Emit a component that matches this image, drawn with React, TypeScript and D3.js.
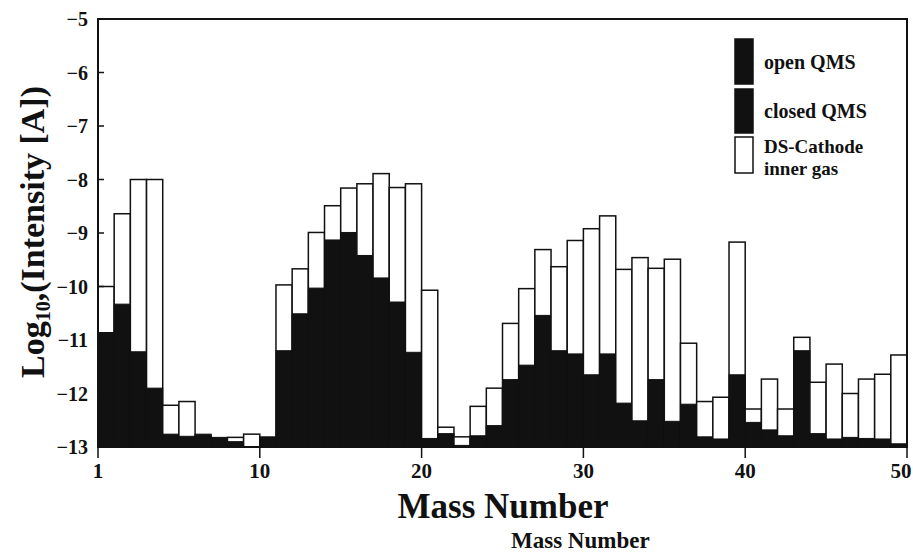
import React from "react";
import * as d3 from "d3";

// Mass numbers 1..50
const massNumbers: number[] = d3.range(1, 51);

// DS-Cathode inner gas (white bars), log10 intensity
const dsCathode: number[] = [
  -10.0, -8.64, -8.0, -8.0, -12.22, -12.15, -12.8, -12.84, -12.82, -12.76,
  -12.85, -9.97, -9.67, -8.99, -8.49, -8.16, -8.08, -7.89, -8.15, -8.08,
  -10.07, -12.63, -12.81, -12.24, -11.9, -10.69, -10.04, -9.31, -9.63, -9.14,
  -8.92, -8.68, -9.68, -9.46, -9.66, -9.49, -11.06, -12.15, -12.07, -9.17,
  -12.29, -11.73, -12.29, -10.95, -11.79, -11.45, -12.0, -11.73, -11.64, -11.28,
];

// QMS (open / closed, black bars), log10 intensity
const qms: number[] = [
  -10.86, -10.33, -11.22, -11.9, -12.76, -12.8, -12.76, -12.82, -12.9, -13.0,
  -12.81, -11.2, -10.51, -10.03, -9.13, -8.99, -9.42, -9.84, -10.29, -11.23,
  -12.84, -12.75, -12.97, -12.79, -12.6, -11.74, -11.47, -10.54, -11.2, -11.26,
  -11.65, -11.26, -12.18, -12.51, -11.74, -12.52, -12.2, -12.81, -12.85, -11.65,
  -12.54, -12.68, -12.79, -11.2, -12.75, -12.85, -12.82, -12.84, -12.85, -12.94,
];

const yTicks: number[] = [-5, -6, -7, -8, -9, -10, -11, -12, -13];
const xTickValues: number[] = [0, 10, 20, 30, 40, 50];
const xTickLabels: string[] = ["1", "10", "20", "30", "40", "50"];

const legendLabels: string[][] = [["open QMS"], ["closed QMS"], ["DS-Cathode", "inner gas"]];
const legendFills: string[] = ["#111", "#111", "#fff"];

const FONT = "'Liberation Serif', 'Times New Roman', serif";

export default function App() {
  const W = 913;
  const H = 558;
  const left = 98, right = 907, top = 19, bottom = 447;

  const x = d3.scaleLinear().domain([0, 50]).range([left, right]);
  const y = d3.scaleLinear().domain([-13, -5]).range([bottom, top]);
  const base = -13;

  const legendSwatch = [
    { y0: 39, y1: 84 },
    { y0: 89, y1: 133 },
    { y0: 137, y1: 173 },
  ];
  const legendBaselines = [[69], [118], [153, 175]];

  return (
    <svg
      width={W}
      height={H}
      style={{ position: "absolute", left: 0, top: 0, background: "#fff" }}
      fontFamily={FONT}
    >
      <rect x={0} y={0} width={W} height={H} fill="#fff" />
      {/* bars */}
      {massNumbers.map((m, i) => {
        const x0 = x(m - 1);
        const x1 = x(m);
        const wTop = y(dsCathode[i]);
        const bTop = y(qms[i]);
        return (
          <g key={m}>
            <rect
              x={x0}
              y={wTop}
              width={x1 - x0}
              height={y(base) - wTop}
              fill="#fff"
              stroke="#111"
              strokeWidth={1.5}
            />
            {qms[i] > base && (
              <rect
                x={x0}
                y={bTop}
                width={x1 - x0}
                height={y(base) - bTop}
                fill="#111"
                stroke="#111"
                strokeWidth={1}
              />
            )}
          </g>
        );
      })}
      {/* frame */}
      <rect x={left} y={top} width={right - left} height={bottom - top} fill="none" stroke="#111" strokeWidth={2} />
      {/* y ticks */}
      {yTicks.map((t) => (
        <g key={t}>
          <line x1={left} x2={left + 6} y1={y(t)} y2={y(t)} stroke="#111" strokeWidth={1.5} />
          <text
            x={88}
            y={y(t)}
            textAnchor="end"
            dominantBaseline="central"
            fontSize={20}
            fontWeight="bold"
            fill="#111"
          >
            {"\u2212" + Math.abs(t)}
          </text>
        </g>
      ))}
      {/* x ticks */}
      {xTickValues.map((v, i) => (
        <g key={v}>
          <line x1={x(v)} x2={x(v)} y1={bottom} y2={bottom + 11} stroke="#111" strokeWidth={1.5} />
          <text
            x={Math.min(x(v), W - 12)}
            y={478}
            textAnchor="middle"
            fontSize={21}
            fontWeight="bold"
            fill="#111"
          >
            {xTickLabels[i]}
          </text>
        </g>
      ))}
      {/* y axis title */}
      <text
        transform="translate(44,232) rotate(-90)"
        textAnchor="middle"
        fontSize={34}
        fontWeight="bold"
        fill="#111"
      >
        Log<tspan fontSize={20} dy={6}>10</tspan>
        <tspan dy={-6}>,(Intensity [A])</tspan>
      </text>
      {/* x axis titles */}
      <text x={503} y={518} textAnchor="middle" fontSize={35} fontWeight="bold" fill="#111">
        Mass Number
      </text>
      <text x={511} y={548} textAnchor="start" fontSize={23} fontWeight="bold" fill="#111">
        Mass Number
      </text>
      {/* legend */}
      {legendLabels.map((lines, i) => (
        <g key={i}>
          <rect
            x={735}
            y={legendSwatch[i].y0}
            width={18}
            height={legendSwatch[i].y1 - legendSwatch[i].y0}
            fill={legendFills[i]}
            stroke="#111"
            strokeWidth={1.5}
          />
          {lines.map((ln, j) => (
            <text
              key={j}
              x={764}
              y={legendBaselines[i][j]}
              fontSize={lines.length > 1 ? 19 : 20}
              fontWeight="bold"
              fill="#111"
            >
              {ln}
            </text>
          ))}
        </g>
      ))}
    </svg>
  );
}
